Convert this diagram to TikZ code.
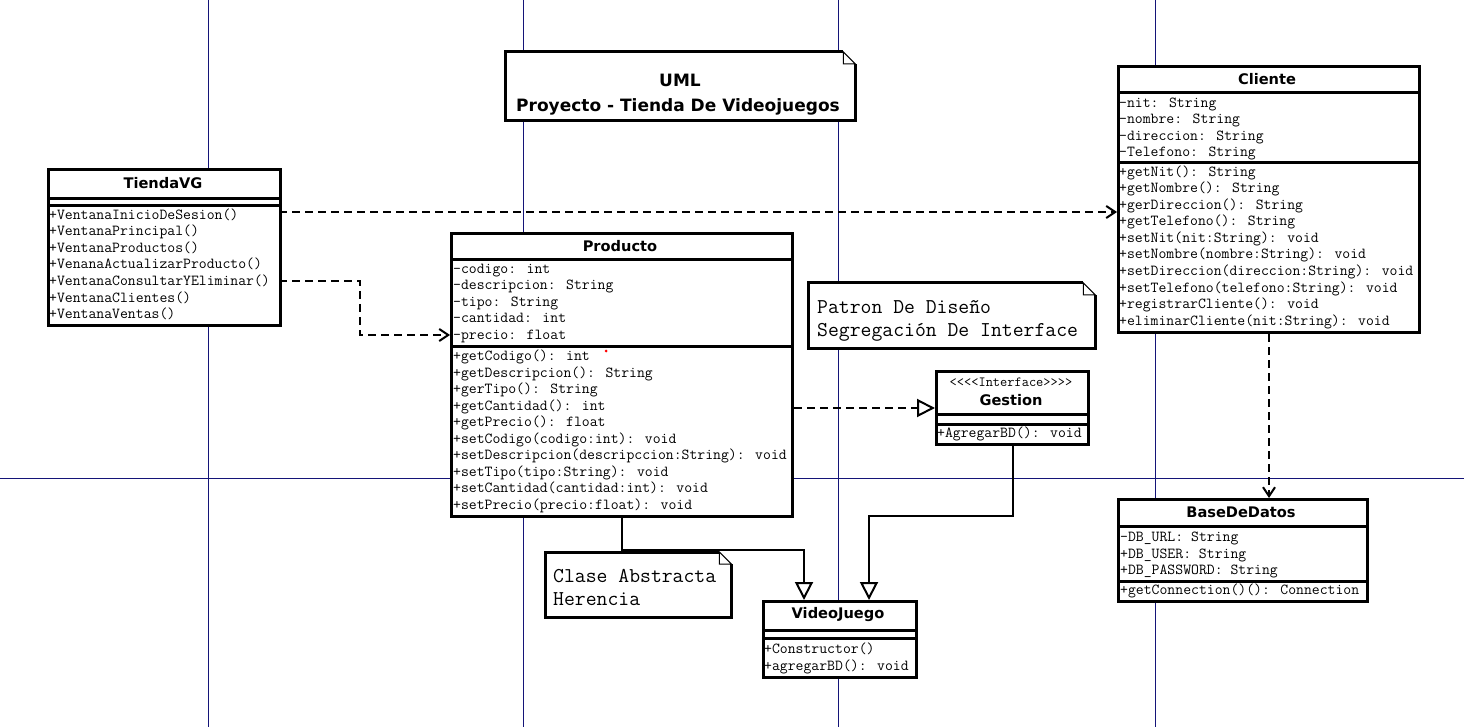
\documentclass[tikz,border=0pt]{standalone}
\usepackage{fontspec}
\setmainfont{DejaVu Sans}
\setsansfont{DejaVu Sans}
\usetikzlibrary{arrows.meta}

\definecolor{gridblue}{RGB}{20,20,120}

\tikzset{
  classbox/.style={draw, fill=white, line width=3pt, inner sep=0pt, anchor=north west},
  notebox/.style={inner sep=0pt, anchor=north west},
  divider/.style={line width=3pt},
  classname/.style={font=\sffamily\bfseries\fontsize{14.6}{16}\selectfont, inner sep=0pt},
  member/.style={font=\ttfamily\fontsize{15.3}{16}\selectfont, anchor=base west, inner sep=0pt},
  notetext/.style={font=\ttfamily\fontsize{21.1}{22}\selectfont, anchor=base west, inner sep=0pt},
  titletext/.style={font=\sffamily\bfseries\fontsize{17}{20}\selectfont, anchor=base, inner sep=0pt},
  dep/.style={line width=2pt, dash pattern=on 8pt off 5pt, -{Straight Barb[length=9pt,width=12pt]}},
  real/.style={line width=2pt, dash pattern=on 8pt off 5pt, -{Triangle[open,length=18pt,width=18pt,fill=white]}},
  gen/.style={line width=2pt, -{Triangle[open,length=18pt,width=18pt,fill=white]}},
  gridline/.style={gridblue, line width=1pt}
}

\begin{document}
\begin{tikzpicture}[x=1pt, y=-1pt]

  \useasboundingbox (0,0) rectangle (1464,727);
  \fill[white] (0,0) rectangle (1464,727);

  % page grid
  \foreach \gx in {208,523,838,1155}
    \draw[gridline] (\gx,0) -- (\gx,727);
  \draw[gridline] (0,478) -- (1464,478);

  % title note
  \node[notebox, minimum width=350pt, minimum height=68pt] (titulo) at (505,52) {};
  \fill[white] (titulo.north west) rectangle (titulo.south east);
  \draw[line width=3pt] ([xshift=-12pt]titulo.north east) -- (titulo.north west)
    -- (titulo.south west) -- (titulo.south east) -- ([yshift=-12pt]titulo.north east);
  \draw[line width=1pt] ([xshift=-12pt]titulo.north east) -- ([yshift=-12pt]titulo.north east)
    -- ([xshift=-12pt,yshift=-12pt]titulo.north east) -- cycle;
  \node[titletext] (titulo-l1) at (680,87) {UML};
  \node[titletext] (titulo-l2) at (678,112) {Proyecto - Tienda De Videojuegos};

  % TiendaVG
  \node[classbox, minimum width=232pt, minimum height=156pt] (tienda) at (47,168) {};
  \node[classname] (tienda-name) at (163,183) {TiendaVG};
  \draw[divider] (47,199) -- (279,199);
  \draw[divider] (47,206) -- (279,206);
  \foreach \m [count=\i from 0] in {{+VentanaInicioDeSesion()},{+VentanaPrincipal()},
      {+VentanaProductos()},{+VenanaActualizarProducto()},{+VentanaConsultarYEliminar()},
      {+VentanaClientes()},{+VentanaVentas()}}
    \node[member] (tienda-m\i) at (49,219.5+16.5*\i) {\m};

  % Producto
  \node[classbox, minimum width=341pt, minimum height=283pt] (producto) at (450,232) {};
  \node[classname] (producto-name) at (620,246) {Producto};
  \draw[divider] (450,260) -- (791,260);
  \draw[divider] (450,346) -- (791,346);
  \foreach \m [count=\i from 0] in {{-codigo: int},{-descripcion: String},{-tipo: String},
      {-cantidad: int},{-precio: float}}
    \node[member] (producto-a\i) at (453,273.5+16.5*\i) {\m};
  \foreach \m [count=\i from 0] in {{+getCodigo(): int},{+getDescripcion(): String},
      {+gerTipo(): String},{+getCantidad(): int},{+getPrecio(): float},
      {+setCodigo(codigo:int): void},{+setDescripcion(descripccion:String): void},
      {+setTipo(tipo:String): void},{+setCantidad(cantidad:int): void},
      {+setPrecio(precio:float): void}}
    \node[member] (producto-m\i) at (453,360.5+16.5*\i) {\m};
  \fill[red] (606,351) circle (1.5pt);

  % Cliente
  \node[classbox, minimum width=301pt, minimum height=266pt] (cliente) at (1117,65) {};
  \node[classname] (cliente-name) at (1267,79) {Cliente};
  \draw[divider] (1117,93) -- (1418,93);
  \draw[divider] (1117,163) -- (1418,163);
  \foreach \m [count=\i from 0] in {{-nit: String},{-nombre: String},{-direccion: String},
      {-Telefono: String}}
    \node[member] (cliente-a\i) at (1119,107.5+16.5*\i) {\m};
  \foreach \m [count=\i from 0] in {{+getNit(): String},{+getNombre(): String},
      {+gerDireccion(): String},{+getTelefono(): String},{+setNit(nit:String): void},
      {+setNombre(nombre:String): void},{+setDireccion(direccion:String): void},
      {+setTelefono(telefono:String): void},{+registrarCliente(): void},
      {+eliminarCliente(nit:String): void}}
    \node[member] (cliente-m\i) at (1119,176.5+16.5*\i) {\m};

  % Patron note
  \node[notebox, minimum width=287pt, minimum height=65pt] (patron) at (808,283) {};
  \fill[white] (patron.north west) rectangle (patron.south east);
  \draw[line width=3pt] ([xshift=-12pt]patron.north east) -- (patron.north west)
    -- (patron.south west) -- (patron.south east) -- ([yshift=-12pt]patron.north east);
  \draw[line width=1pt] ([xshift=-12pt]patron.north east) -- ([yshift=-12pt]patron.north east)
    -- ([xshift=-12pt,yshift=-12pt]patron.north east) -- cycle;
  \node[notetext] (patron-l1) at (817,313) {Patron De Diseño};
  \node[notetext] (patron-l2) at (817,336) {Segregación De Interface};

  % Gestion
  \node[classbox, minimum width=152pt, minimum height=73pt] (gestion) at (935,370) {};
  \node[font=\ttfamily\fontsize{14}{14}\selectfont, inner sep=0pt] (gestion-st) at (1011,382)
    {<{}<{}<{}<Interface>{}>{}>{}>};
  \node[classname] (gestion-name) at (1011,400) {Gestion};
  \draw[divider] (935,414) -- (1087,414);
  \draw[divider] (935,424) -- (1087,424);
  \node[member] (gestion-m0) at (937,437.5) {+AgregarBD(): void};

  % BaseDeDatos
  \node[classbox, minimum width=249pt, minimum height=102pt] (basedatos) at (1117,498) {};
  \node[classname] (basedatos-name) at (1241,512) {BaseDeDatos};
  \draw[divider] (1117,526) -- (1366,526);
  \draw[divider] (1117,581) -- (1366,581);
  \foreach \m [count=\i from 0] in {{-DB\_URL: String},{+DB\_USER: String},
      {+DB\_PASSWORD: String}}
    \node[member] (basedatos-a\i) at (1120,541.5+16.5*\i) {\m};
  \node[member] (basedatos-m0) at (1120,594.5) {+getConnection()(): Connection};

  % Clase Abstracta note
  \node[notebox, minimum width=186pt, minimum height=65pt] (abstracta) at (545,552) {};
  \fill[white] (abstracta.north west) rectangle (abstracta.south east);
  \draw[line width=3pt] ([xshift=-12pt]abstracta.north east) -- (abstracta.north west)
    -- (abstracta.south west) -- (abstracta.south east) -- ([yshift=-12pt]abstracta.north east);
  \draw[line width=1pt] ([xshift=-12pt]abstracta.north east) -- ([yshift=-12pt]abstracta.north east)
    -- ([xshift=-12pt,yshift=-12pt]abstracta.north east) -- cycle;
  \node[notetext] (abstracta-l1) at (553,582) {Clase Abstracta};
  \node[notetext] (abstracta-l2) at (553,605) {Herencia};

  % VideoJuego
  \node[classbox, minimum width=153pt, minimum height=76pt] (videojuego) at (762,600) {};
  \node[classname] (videojuego-name) at (838,615) {VideoJuego};
  \draw[divider] (762,630) -- (915,630);
  \draw[divider] (762,638) -- (915,638);
  \foreach \m [count=\i from 0] in {{+Constructor()},{+agregarBD(): void}}
    \node[member] (videojuego-m\i) at (764,653.5+16.5*\i) {\m};

  % connectors
  \coordinate (tv-out1) at (279,212);
  \coordinate (tv-out2) at (279,281);
  \coordinate (prod-in) at (450,335);
  \draw[dep] (tv-out1) -- (tv-out1 -| cliente.west);
  \draw[dep] (tv-out2) -- ++(81,0) |- (prod-in);
  \draw[real] (producto.east |- gestion.west) -- (gestion.west);
  \draw[gen] (producto.south) -- ++(0,32) -| ([xshift=-36pt]videojuego.north);
  \draw[gen] (gestion.south) -- ++(0,70) -| ([xshift=29pt]videojuego.north);
  \draw[dep] (cliente.south) -- (cliente.south |- basedatos.north);

\end{tikzpicture}
\end{document}
